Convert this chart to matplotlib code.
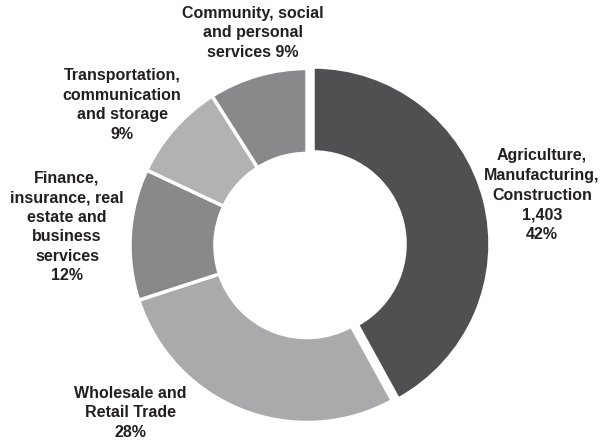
import matplotlib.pyplot as plt

plt.rcParams['font.family'] = ['Liberation Sans', 'DejaVu Sans']

# sector shares, clockwise from 12 o'clock
sectors = ["Agriculture,\nManufacturing,\nConstruction\n1,403",
           "Wholesale and\nRetail Trade",
           "Finance,\ninsurance, real\nestate and\nbusiness\nservices",
           "Transportation,\ncommunication\nand storage",
           "Community, social\nand personal\nservices"]
shares = [42, 28, 12, 9, 9]
colors = ["#505052", "#a9aaac", "#88898b", "#b1b2b4", "#88898b"]
explode = [0.035, 0, 0, 0, 0]

# label anchor points in data units (pie radius = 1)
label_xy = [(1.328, 0.285), (-1.0, -0.946), (-1.356, 0.105), (-1.045, 0.794), (-0.305, 1.203)]

fig = plt.figure(figsize=(6, 4.44), dpi=100)
ax = fig.add_axes([0, 0, 1, 1])

ax.pie(shares, colors=colors, explode=explode, startangle=90, counterclock=False,
       radius=1, wedgeprops=dict(width=0.48, edgecolor="white", linewidth=2.5))

for name, pct, (x, y) in zip(sectors, shares, label_xy):
    if name.startswith("Community"):
        txt = f"{name} {pct}%"
    else:
        txt = f"{name}\n{pct}%"
    ax.text(x, y, txt, ha="center", va="center", fontsize=11.5, fontweight="bold",
            color="#231f20", linespacing=1.38)

ax.set_xlim(-1.7345, 1.6554)
ax.set_ylim(-1.1215, 1.387)
ax.set_aspect("auto")
ax.axis("off")

fig.savefig("out.png", dpi=100, facecolor="white")
